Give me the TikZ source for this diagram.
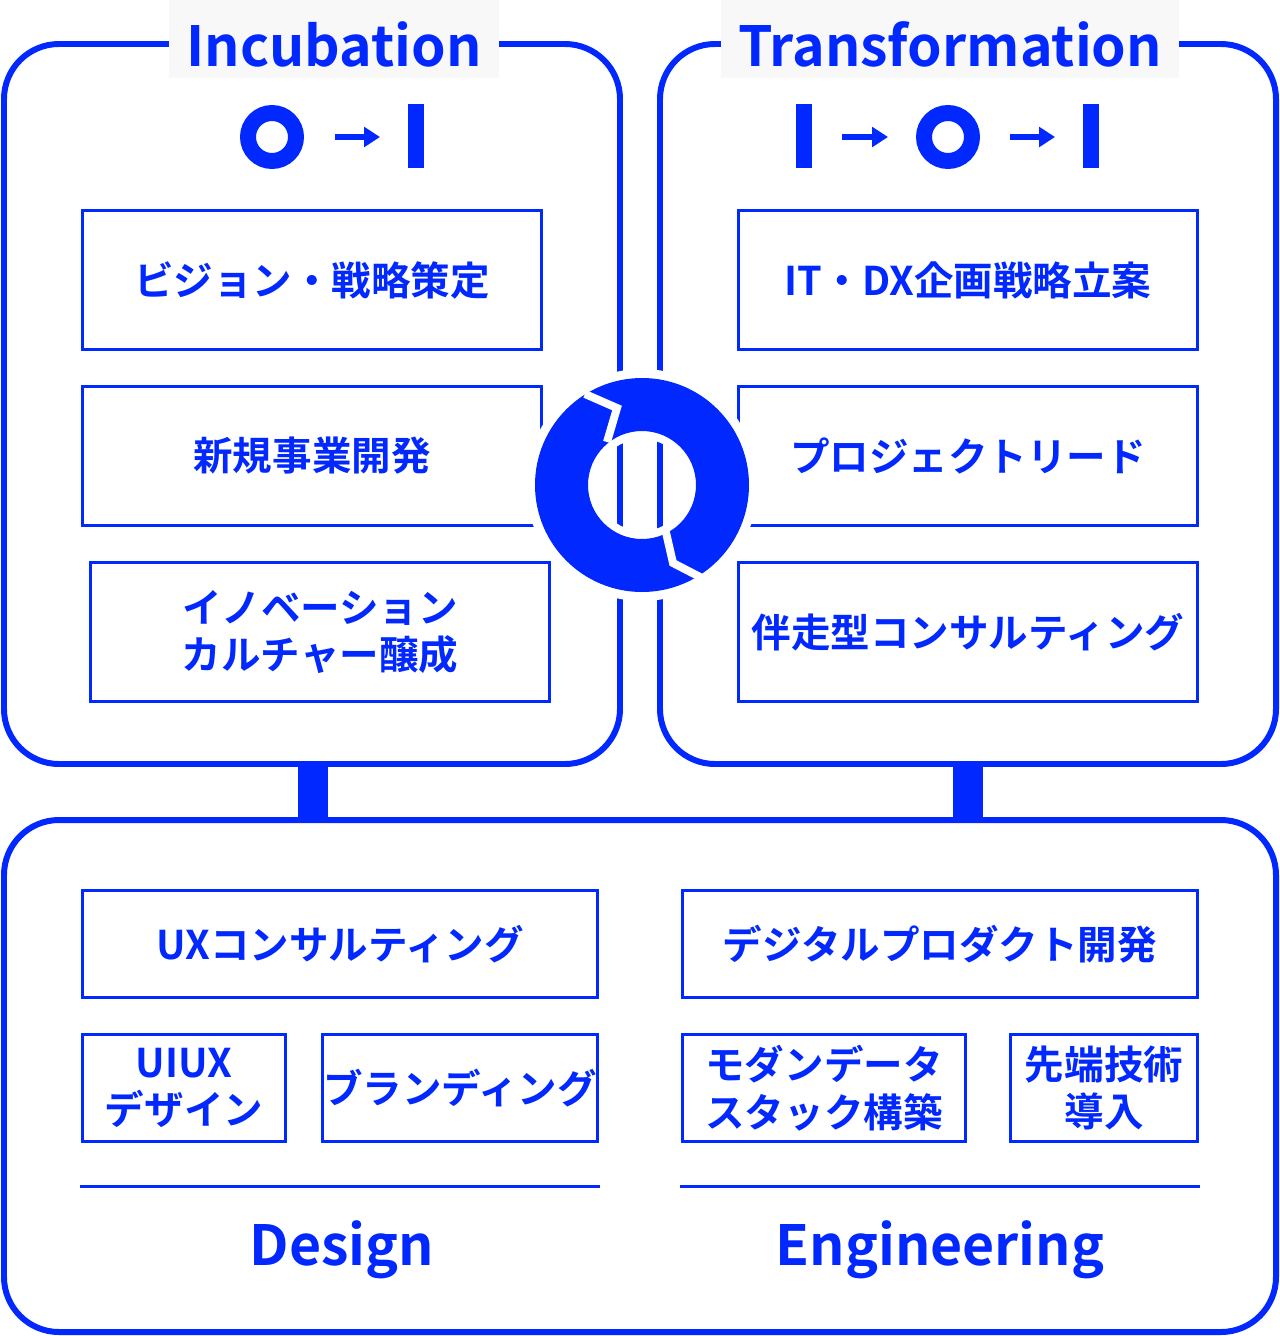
\documentclass[tikz,border=0pt]{standalone}
\usepackage{fontspec}
\usetikzlibrary{arrows.meta}
\setmainfont{Noto Sans CJK JP}[BoldFont={* Bold}]
\definecolor{brand}{RGB}{0,40,255}
\definecolor{tagbg}{RGB}{248,248,249}
\begin{document}
\begin{tikzpicture}[x=0.02cm,y=-0.02cm,
    panel/.style={draw=brand, line width=6*0.567pt, rounded corners=1.1cm},
    itembox/.style={draw=brand, line width=3*0.567pt, fill=white, align=center, text=brand, font=\bfseries\fontsize{22.5}{27}\selectfont, inner sep=0pt},
    heading/.style={text=brand, font=\bfseries\fontsize{31.5}{38}\selectfont, inner sep=0pt},
    tag/.style={fill=tagbg, minimum height=78*0.567pt, inner sep=0pt},
    bar/.style={fill=brand},
    arrowtip/.style={brand, line width=6*0.567pt, -{Triangle[length=9pt,width=11pt]}}]
\useasboundingbox (0,0) rectangle (1280,1336);
% outer panels
\draw[panel] (4,44) rectangle (620,764);
\draw[panel] (660,44) rectangle (1276,764);
\draw[panel] (4,820) rectangle (1276,1332);
\fill[brand] (298,764) rectangle (328,820);
\fill[brand] (953,764) rectangle (983,820);
% titles
\node[tag, minimum width=332*0.567pt] (incbg) at (334,39) {};
\node[heading] (inc) at (334,44) {Incubation};
\node[tag, minimum width=460*0.567pt] (trbg) at (950,39) {};
\node[heading] (tr) at (950,44) {Transformation};
% zero to one marks
\draw[brand, line width=16*0.567pt] (272,137) circle (24);
\draw[arrowtip] (335,137) -- (380,137);
\fill[brand] (408,104) rectangle (424,168);
\fill[brand] (796,104) rectangle (812,168);
\draw[arrowtip] (842,137) -- (888,137);
\draw[brand, line width=16*0.567pt] (948,137) circle (24);
\draw[arrowtip] (1010,137) -- (1055,137);
\fill[brand] (1083,104) rectangle (1099,168);
% upper items
\node[itembox, minimum width=460*0.567pt, minimum height=140*0.567pt] (vision) at (312,280) {ビジョン・戦略策定};
\node[itembox, minimum width=460*0.567pt, minimum height=140*0.567pt] (newbiz) at (312,456) {新規事業開発};
\node[itembox, minimum width=460*0.567pt, minimum height=140*0.567pt] (culture) at (320,632) {イノベーション\\カルチャー醸成};
\node[itembox, minimum width=460*0.567pt, minimum height=140*0.567pt] (itdx) at (968,280) {IT・DX企画戦略立案};
\node[itembox, minimum width=460*0.567pt, minimum height=140*0.567pt] (lead) at (968,456) {プロジェクトリード};
\node[itembox, minimum width=460*0.567pt, minimum height=140*0.567pt] (consult) at (968,632) {伴走型コンサルティング};
% cycle mark
\fill[white, even odd rule] (642,485) circle (116) (642,485) circle (46);
\fill[brand, even odd rule] (642,485) circle (107) (642,485) circle (54);
\draw[white, line width=8*0.567pt] (585,394) -- (617,408) -- (607,442);
\draw[white, line width=8*0.567pt] (665,528) -- (673,563) -- (702,578);
% lower items
\node[itembox, minimum width=516*0.567pt, minimum height=108*0.567pt] (ux) at (340,944) {UXコンサルティング};
\node[itembox, minimum width=516*0.567pt, minimum height=108*0.567pt] (prod) at (940,944) {デジタルプロダクト開発};
\node[itembox, minimum width=204*0.567pt, minimum height=108*0.567pt] (uiux) at (184,1088) {UIUX\\デザイン};
\node[itembox, minimum width=276*0.567pt, minimum height=108*0.567pt] (brand) at (460,1088) {ブランディング};
\node[itembox, minimum width=284*0.567pt, minimum height=108*0.567pt] (stack) at (824,1088) {モダンデータ\\スタック構築};
\node[itembox, minimum width=188*0.567pt, minimum height=108*0.567pt] (tech) at (1104,1088) {先端技術\\導入};
% footers
\draw[brand, line width=3*0.567pt] (80,1186) -- (600,1186);
\draw[brand, line width=3*0.567pt] (680,1186) -- (1200,1186);
\node[heading] (design) at (342,1250) {Design};
\node[heading] (eng) at (940,1250) {Engineering};
\end{tikzpicture}
\end{document}
